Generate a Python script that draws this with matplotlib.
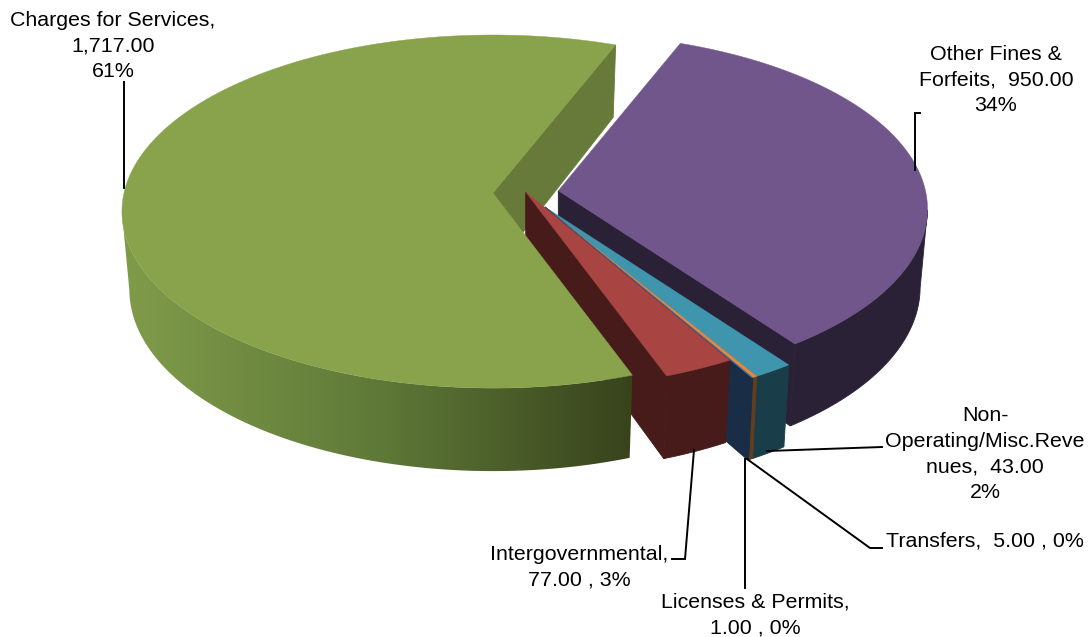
import numpy as np
import matplotlib
matplotlib.use("Agg")
import matplotlib.pyplot as plt
from matplotlib.patches import Polygon
from matplotlib.colors import LinearSegmentedColormap

plt.rcParams['font.family'] = ['Liberation Sans', 'DejaVu Sans']

# counter-clockwise order round the pie, starting at the back edge of the largest slice
categories = ["Charges for Services", "Intergovernmental", "Licenses & Permits",
              "Transfers", "Non-Operating/Misc.Revenues", "Other Fines & Forfeits"]
values = [1717.0, 77.0, 1.0, 5.0, 43.0, 950.0]
label_texts = ["Charges for Services,\n1,717.00\n61%",
               "Intergovernmental,\n77.00 , 3%",
               "Licenses & Permits,\n1.00 , 0%",
               "Transfers,  5.00 , 0%",
               "Non-\nOperating/Misc.Reve\nnues,  43.00\n2%",
               "Other Fines &\nForfeits,  950.00\n34%"]

top_colors = ["#88A34C", "#A84442", "#4A78AD", "#E8883A", "#4095AE", "#71568B"]
side_colors = ["#677A39", "#461B19", "#1A2D47", "#643D1C", "#1A3E49", "#2B2137"]
apex = [(493, 193), (525.7, 192), (545, 207), (545, 207), (545, 207), (558.3, 190.7)]
scale = [1.0, 1.01, 1.025, 1.025, 1.025, 0.995]

START = 68.6
A, B, K = 369.0, 174.6, 0.105


def top_pt(theta, i, r=1.0):
    t = np.radians(theta)
    c, s = np.cos(t), np.sin(t)
    w = 1 + K * s * r
    return (apex[i][0] + scale[i] * A * r * c / w,
            apex[i][1] - scale[i] * B * r * s / w)


def bottom_pt(theta, i, r=1.0):
    x, y = top_pt(theta, i, r)
    s = np.sin(np.radians(theta)) * r
    return (apex[i][0] + 0.98 * (x - apex[i][0]), y + 77.5 - 5.5 * s)


fig = plt.figure(figsize=(10.89, 6.37), dpi=100)
ax = fig.add_axes([0, 0, 1, 1])
ax.set_xlim(0, 1089)
ax.set_ylim(637, 0)
ax.axis("off")

sweeps = np.array(values) / sum(values) * 360
starts = START + np.concatenate([[0], np.cumsum(sweeps)[:-1]])
green_cmap = LinearSegmentedColormap.from_list("side", ["#809C4A", "#5F7A38", "#38431C"])


def face(theta, i, z):
    pts = [top_pt(theta, i, 0), top_pt(theta, i), bottom_pt(theta, i), bottom_pt(theta, i, 0)]
    ax.add_patch(Polygon(pts, closed=True, fc=side_colors[i], ec=side_colors[i], lw=0.6, zorder=z))


def rim(i, z):
    a, b = starts[i], starts[i] + sweeps[i]
    th = np.linspace(a, b, max(3, int((b - a) * 3)))
    th = th[np.sin(np.radians(th)) < -K]
    pts = [top_pt(t, i) for t in th] + [bottom_pt(t, i) for t in th[::-1]]
    if i == 0:
        poly = Polygon(pts, closed=True, fc="none", ec="none", zorder=z)
        ax.add_patch(poly)
        grad = np.linspace(0, 1, 256).reshape(1, -1)
        im = ax.imshow(grad, extent=(120, 632, 480, 130), cmap=green_cmap, aspect="auto", zorder=z)
        im.set_clip_path(poly)
        ax.set_xlim(0, 1089)
        ax.set_ylim(637, 0)
    else:
        ax.add_patch(Polygon(pts, closed=True, fc=side_colors[i], ec=side_colors[i], lw=0.6, zorder=z))


def top(i, z):
    a, b = starts[i], starts[i] + sweeps[i]
    th = np.linspace(a, b, max(3, int((b - a) * 3)))
    pts = [top_pt(a, i, 0)] + [top_pt(t, i) for t in th]
    ax.add_patch(Polygon(pts, closed=True, fc=top_colors[i], ec=top_colors[i], lw=0.3, zorder=z))


# painter's order: far to near; the largest slice's far face goes underneath everything
face(starts[0], 0, 1)
z = 2
for i in [5, 4, 3, 2, 1, 0]:
    a, b = starts[i], starts[i] + sweeps[i]
    if i != 0:
        if np.sin(np.radians(a - 90)) < 0:
            face(a, i, z)
        if np.sin(np.radians(b + 90)) < 0:
            face(b, i, z)
    z += 1
    rim(i, z)
    z += 1
    top(i, z)
    z += 1

# leader lines
leaders = [[(124, 188), (124, 82)],
           [(694, 450), (685, 559), (672, 559)],
           [(745, 459), (745, 588)],
           [(747, 459), (870, 548), (882, 548)],
           [(767, 451), (882, 447)],
           [(915, 170), (915, 113), (920, 113)]]
for pts in leaders:
    xs, ys = zip(*pts)
    ax.plot(xs, ys, color="black", lw=1.4, zorder=50, solid_joinstyle="miter")

label_pos = [(113, 46), (579, 567), (755, 615), (985, 454), (996, 80)]
label_pos.insert(3, (985, 541))
for txt, (x, y) in zip(label_texts, label_pos):
    ax.text(x, y, txt, ha="center", va="center", fontsize=15.4, color="black",
            linespacing=1.43, zorder=60)

fig.savefig("out.png", dpi=100)
